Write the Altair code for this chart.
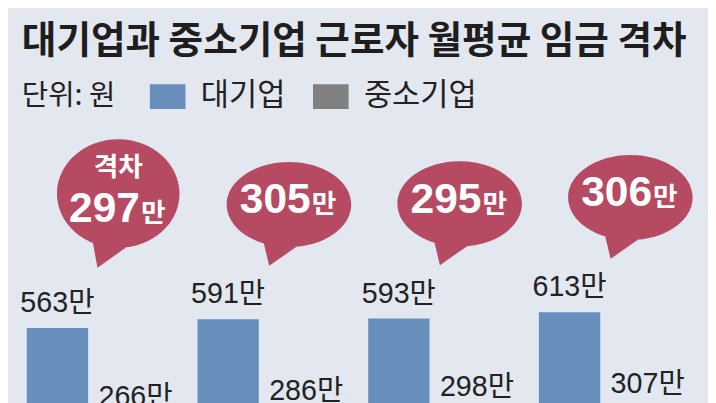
import altair as alt
import pandas as pd

# ---- data ----
years = ["2021년", "2022년", "2023년", "2024년"]
series = ["대기업", "중소기업"]
large = [563, 591, 593, 613]      # 대기업 (만원)
small = [266, 286, 298, 307]      # 중소기업 (만원)
gap = [297, 305, 295, 306]        # 격차 (만원)
headers = ["격차", "", "", ""]
unit = "만"

colors = ["#688fbc", "#808080"]
bubble_color = "#b54a62"
bg = "#e3e7f0"
ink = "#222222"

bars = pd.DataFrame({
    "year": years * 2,
    "series": [series[0]] * len(years) + [series[1]] * len(years),
    "value": large + small,
})
bars["label"] = bars["value"].astype(str) + unit

bub = pd.DataFrame({
    "year": years,
    "large": large,
    "gap": [str(g) for g in gap],
    "header": headers,
    "unit": [unit] * len(years),
})

# speech-bubble shapes (symbol paths, drawn relative to the top of the 대기업 bar)
ONE = ("M-41,-116A63,43 0 1 1 85,-116A63,43 0 1 1 -41,-116Z"
       "M-4,-79L32,-75L2,-54Z")
TWO = ("M-40,-136A62,55 0 1 1 84,-136A62,55 0 1 1 -40,-136Z"
       "M-4,-88L32,-83L1,-61Z")
RECT = "M-1.44,-1H1.44V1H-1.44Z"

xscale = alt.Scale(paddingInner=0.183, paddingOuter=0.11)
yscale = alt.Scale(domain=[0, 1253], nice=False, zero=True)

X = alt.X("year:N", sort=years, axis=None, scale=xscale)
XO = alt.XOffset("series:N", sort=series, scale=alt.Scale(paddingInner=0.215, paddingOuter=0))
Y = alt.Y("value:Q", axis=None, scale=yscale)
YL = alt.Y("large:Q", axis=None, scale=yscale)

legend = alt.Legend(
    title="단위: 원", orient="none", legendX=14, legendY=-29,
    direction="horizontal", titleOrient="left",
    titleFont="Noto Sans CJK KR", titleFontSize=29, titleFontWeight="normal",
    titleColor=ink, titlePadding=37, titleBaseline="middle",
    labelFont="Noto Sans CJK KR", labelFontSize=31, labelColor=ink,
    labelOffset=18, columnPadding=27,
    symbolType=RECT, symbolSize=625, symbolStrokeWidth=0, symbolOpacity=1,
)

bar_layer = alt.Chart(bars).mark_bar().encode(
    x=X, xOffset=XO, y=Y,
    color=alt.Color("series:N", sort=series,
                    scale=alt.Scale(domain=series, range=colors), legend=legend),
)

value_labels = alt.Chart(bars).mark_text(
    dy=-16, fontSize=29, font="Liberation Sans, Noto Sans CJK KR",
    color=ink, baseline="alphabetic", align="center",
).encode(x=X, xOffset=XO, y=Y, text="label:N")

bubbles = alt.Chart(bub).mark_point(
    filled=True, opacity=1, size=4, strokeWidth=0, color=bubble_color,
).encode(
    x=X, y=YL,
    shape=alt.condition("datum.header != ''", alt.value(TWO), alt.value(ONE)),
)

gap_digits = alt.Chart(bub).mark_text(
    dx=44, dy=-107, align="right", baseline="alphabetic",
    fontSize=43, fontWeight="bold", font="Liberation Sans", color="white",
).encode(x=X, y=YL, text="gap:N")

gap_unit = alt.Chart(bub).mark_text(
    dx=45, dy=-107, align="left", baseline="alphabetic",
    fontSize=27, fontWeight="bold", font="Noto Sans CJK KR", color="white",
).encode(x=X, y=YL, text="unit:N")

gap_header = alt.Chart(bub).transform_filter("datum.header != ''").mark_text(
    dx=22, dy=-154, align="center", baseline="alphabetic",
    fontSize=27, fontWeight="bold", font="Noto Sans CJK KR", color="white",
).encode(x=X, y=YL, text="header:N")

chart = alt.layer(
    bar_layer, value_labels, bubbles, gap_digits, gap_unit, gap_header
).properties(
    width=697, height=401,
    title=alt.Title(
        "대기업과 중소기업 근로자 월평균 임금 격차",
        anchor="start", frame="group", dx=14, offset=20,
        font="Noto Sans CJK KR", fontSize=38, fontWeight="bold", color="#1e1e1e",
    ),
    padding={"left": 0, "top": 100, "right": 11, "bottom": 0},
    autosize=alt.AutoSizeParams(type="none"),
).configure(background=bg).configure_view(strokeWidth=0)

chart.save("out.html", embed_options={"renderer": "svg", "actions": False})
